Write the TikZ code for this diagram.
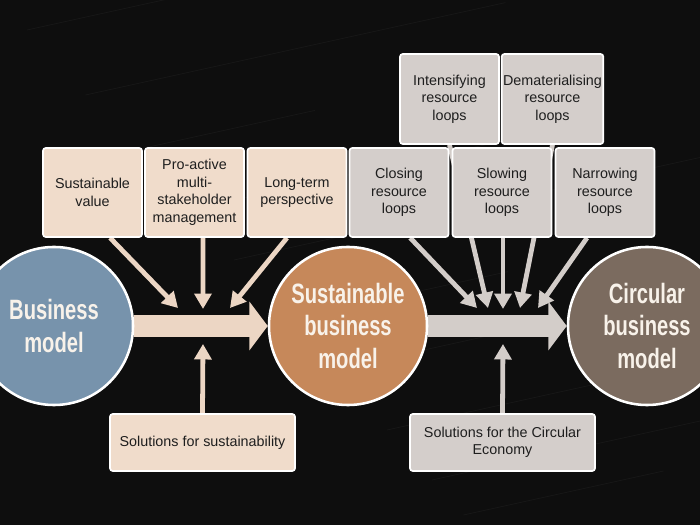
\documentclass[tikz,border=0pt]{standalone}
\usepackage{fontspec}
\setmainfont{Liberation Sans}
\newfontfamily\circfont[FakeStretch=0.72]{Liberation Sans Bold}
\usetikzlibrary{arrows.meta}

\definecolor{backdark}{HTML}{0E0E0E}
\definecolor{streak}{HTML}{2A2A2A}
\definecolor{boxpeach}{HTML}{F0DCCB}
\definecolor{boxgrey}{HTML}{D4CECB}
\definecolor{arrowpeach}{HTML}{ECD6C4}
\definecolor{arrowgrey}{HTML}{D3CDC9}
\definecolor{boxtext}{HTML}{1E1E1E}
\definecolor{modelblue}{HTML}{7793AC}
\definecolor{modelorange}{HTML}{C6885A}
\definecolor{modelbrown}{HTML}{7B6B5F}
\definecolor{modeltext}{HTML}{F8F2EA}

\pgfdeclarelayer{backdrop}
\pgfdeclarelayer{links}
\pgfsetlayers{backdrop,links,main}

\tikzset{
  peachbox/.style={draw=white, line width=1.2pt, rounded corners=2pt, fill=boxpeach,
    minimum width=2.475cm, minimum height=2.225cm, align=center, inner sep=1pt,
    text=boxtext, font=\fontsize{10.2}{12.5}\selectfont},
  greybox/.style={peachbox, fill=boxgrey},
  widebox/.style={minimum width=4.625cm, minimum height=1.425cm},
  model/.style={circle, draw=white, line width=1.8pt, minimum size=3.95cm, inner sep=0pt,
    align=center, text=modeltext, font=\circfont\fontsize{19.9}{22.8}\selectfont},
  bigarrow/.style={line width=15.6pt, -{Triangle[width=34pt,length=13pt]}},
  feeder/.style={line width=3.4pt, -{Triangle[width=12pt,length=11pt]}},
}

\begin{document}
\begin{tikzpicture}[x=0.025cm,y=-0.025cm]
    \useasboundingbox (0,0) rectangle (700,525);
    \clip (0,0) rectangle (700,525); % Circles run over the edges
    \begin{pgfonlayer}{backdrop}
      \fill[backdark] (0,0) rectangle (700,525);
      \foreach \y/\len in {30/260,95/420,150/180,210/340,260/500,320/220,370/380,430/300,480/450,515/200}{%
        \draw[streak, line width=0.5pt, opacity=0.35] (\y*0.9,\y) -- ++(\len,-\len*0.22);
      }
    \end{pgfonlayer}
    % The three models
    \node[model, fill=modelblue]   (BizModel)  at (54,326)  {Business\\model};
    \node[model, fill=modelorange] (SustModel) at (348,326) {Sustainable\\business\\model};
    \node[model, fill=modelbrown]  (CircModel) at (647,326) {Circular\\business\\model};
    % Sustainability boxes
    \node[peachbox] (SustValue) at (92.5,192.5)  {Sustainable\\value};
    \node[peachbox] (ProActive) at (194.5,192.5) {Pro-active\\multi-\\stakeholder\\management};
    \node[peachbox] (LongTerm)  at (297,192.5)   {Long-term\\perspective};
    \node[peachbox, widebox] (SolSust) at (202.5,442.5) {Solutions for sustainability};
    % Circular economy boxes
    \node[greybox] (Closing)   at (399,192.5)  {Closing\\resource\\loops};
    \node[greybox] (Slowing)   at (502,192.5)  {Slowing\\resource\\loops};
    \node[greybox] (Narrowing) at (605,192.5)  {Narrowing\\resource\\loops};
    \node[greybox, minimum height=2.25cm] (Intensify) at (449.5,99) {Intensifying\\resource\\loops};
    \node[greybox, minimum height=2.25cm] (Demat)     at (552.5,99) {Dematerialising\\resource\\loops};
    \node[greybox, widebox] (SolCirc) at (502.5,442.5) {Solutions for the Circular\\Economy};
    % Where the feeders meet the big arrows
    \coordinate (SustInA) at (178,308);
    \coordinate (SustInB) at (203,309);
    \coordinate (SustInC) at (230,308);
    \coordinate (SustUp)  at (203,344);
    \coordinate (CircInA) at (477,308);
    \coordinate (CircInB) at (488,308);
    \coordinate (CircInC) at (503,309);
    \coordinate (CircInD) at (520,308);
    \coordinate (CircInE) at (538,308);
    \coordinate (CircUp)  at (503,344);
    \begin{pgfonlayer}{links}
      \draw[bigarrow, arrowpeach] (BizModel.east) -- (SustModel.west);
      \draw[bigarrow, arrowgrey]  (SustModel.east) -- (CircModel.west);
      \draw[feeder, arrowpeach] ([xshift=0.44cm]SustValue.south) -- (SustInA);
      \draw[feeder, arrowpeach] ([xshift=0.21cm]ProActive.south) -- (SustInB);
      \draw[feeder, arrowpeach] ([xshift=-0.25cm]LongTerm.south) -- (SustInC);
      \draw[feeder, arrowpeach] (SolSust.north) -- (SustUp);
      \draw[feeder, arrowgrey] ([xshift=0.28cm]Closing.south) -- (CircInA);
      \draw[feeder, arrowgrey] (Intensify.south) -- (CircInB); % runs behind Slowing
      \draw[feeder, arrowgrey] ([xshift=0.025cm]Slowing.south) -- (CircInC);
      \draw[feeder, arrowgrey] (Demat.south) -- (CircInD);
      \draw[feeder, arrowgrey] ([xshift=-0.45cm]Narrowing.south) -- (CircInE);
      \draw[feeder, arrowgrey] (SolCirc.north) -- (CircUp);
    \end{pgfonlayer}
\end{tikzpicture}
\end{document}
